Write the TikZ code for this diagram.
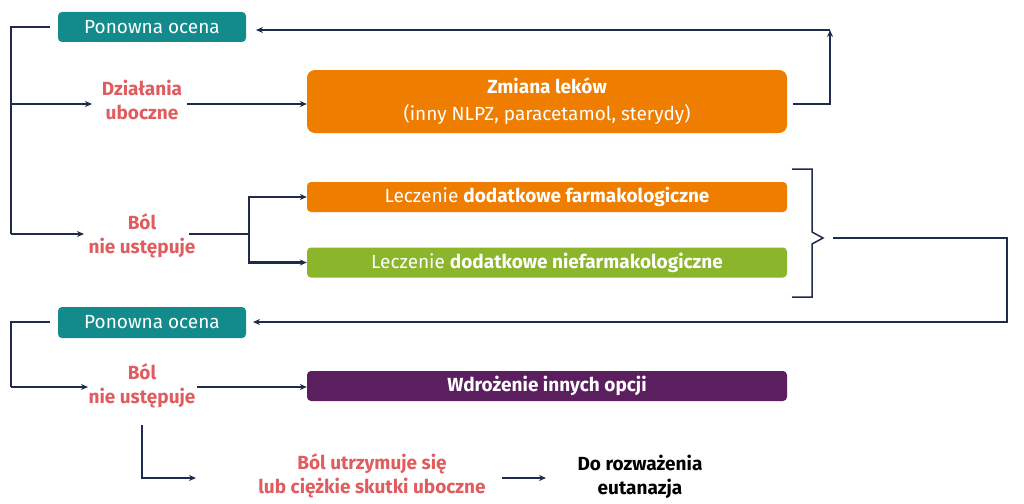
\documentclass[tikz,border=0pt]{standalone}
\usepackage{fontspec}
\setmainfont{Fira Sans}
\usetikzlibrary{arrows.meta}
\definecolor{teal1}{HTML}{138A8C}
\definecolor{orange1}{HTML}{EF7D00}
\definecolor{green1}{HTML}{8BB52B}
\definecolor{purple1}{HTML}{5B1F5F}
\definecolor{red1}{HTML}{E05C5E}
\definecolor{navy1}{HTML}{1F2A4D}
\begin{document}
\begin{tikzpicture}[x=1pt,y=-1pt,
  box/.style={rounded corners=4pt, inner sep=0pt, text=white, font=\fontsize{19}{22}\selectfont},
  lbl/.style={align=center, inner sep=0pt, text=red1, font=\bfseries\fontsize{19}{23.5}\selectfont},
  ln/.style={draw=navy1, line width=2.4pt},
  arr/.style={ln, -{Stealth[length=7pt,width=6pt]}}]
\useasboundingbox[fill=white] (0,0) rectangle (1024,503);
% boxes
\node[box, fill=teal1, minimum width=188pt, minimum height=30pt] (p1) at (152,27) {Ponowna ocena};
\node[box, fill=orange1, minimum width=480pt, minimum height=63pt, rounded corners=8pt, align=center, font=\fontsize{19}{27}\selectfont] (zm) at (547,101.5) {\textbf{Zmiana leków}\\(inny NLPZ, paracetamol, sterydy)};
\node[box, fill=orange1, minimum width=480pt, minimum height=30pt] (lf) at (547,197) {Leczenie \textbf{dodatkowe farmakologiczne}};
\node[box, fill=green1, minimum width=480pt, minimum height=30pt] (ln) at (547,262.5) {Leczenie \textbf{dodatkowe niefarmakologiczne}};
\node[box, fill=teal1, minimum width=188pt, minimum height=31pt] (p2) at (152,322.5) {Ponowna ocena};
\node[box, fill=purple1, minimum width=480pt, minimum height=30pt] (wd) at (547,386) {\textbf{Wdrożenie innych opcji}};
% labels
\node[lbl] (dz) at (142,100) {Działania\\uboczne};
\node[lbl] (b1) at (142,236) {Ból\\nie ustępuje};
\node[lbl] (b2) at (142,386) {Ból\\nie ustępuje};
\node[lbl] (ut) at (372,476) {Ból utrzymuje się\\lub ciężkie skutki uboczne};
\node[lbl, text=black] (dr) at (640,477) {Do rozważenia\\eutanazja};
% coordinates
\coordinate (p1l) at (50,27);
\coordinate (dzin) at (92,104);
\coordinate (dzout) at (187,104);
\coordinate (b1in) at (84,234);
\coordinate (b1out) at (189,234);
\coordinate (fork) at (249,234);
\coordinate (zmout) at (793,104);
\coordinate (up) at (830,30);
\coordinate (p1r) at (256,30);
\coordinate (p2l) at (50,322);
\coordinate (b2in) at (88,387);
\coordinate (b2out) at (197,387);
\coordinate (b2down) at (142,425);
\coordinate (utin) at (196,478);
\coordinate (uto) at (502,478);
\coordinate (dri) at (546,478);
\coordinate (brk) at (833,238);
\coordinate (p2r) at (253,322);
% connectors
\draw[ln] (p1l) -- (11,27) -- (11,234);
\draw[arr] (11,104) -- (dzin);
\draw[arr] (11,234) -- (b1in);
\draw[arr] (dzout) -- (dzout -| zm.west);
\draw[ln] (b1out) -- (fork);
\draw[arr] (fork) |- (lf.west);
\draw[arr] (fork) |- (ln.west);
\draw[arr] (zmout) -| (up);
\draw[arr] (up) -- (p1r);
% bracket
\draw[ln, line width=1.5pt] (792,169) -- (812,169) -- (812,232) -- (823,238) -- (812,244) -- (812,297) -- (792,297);
\draw[arr] (brk) -- (1007,238) |- (p2r);
\draw[ln] (p2l) -- (11,322) -- (11,387);
\draw[arr] (11,387) -- (b2in);
\draw[arr] (b2out) -- (b2out -| wd.west);
\draw[arr] (b2down) |- (utin);
\draw[arr] (uto) -- (dri);
\end{tikzpicture}
\end{document}
